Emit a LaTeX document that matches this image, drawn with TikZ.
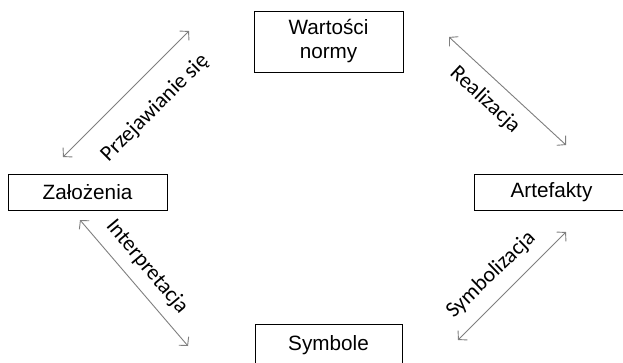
\documentclass[tikz,border=0pt]{standalone}
\usepackage{fontspec}
\setmainfont{Liberation Sans}
\newfontfamily\labelfont{Carlito}
\usetikzlibrary{arrows.meta}
\definecolor{arrgray}{HTML}{7F7F7F}
\tikzset{
  boxnode/.style={draw=black, line width=1pt, inner sep=0pt, align=center,
    font=\fontsize{20.7}{24}\selectfont},
  relarrow/.style={draw=arrgray, line width=0.9pt,
    {Straight Barb[length=6pt,width=13pt]}-{Straight Barb[length=6pt,width=13pt]}},
  rellabel/.style={font=\labelfont\fontsize{22}{24}\selectfont, inner sep=0pt}
}
\begin{document}
\begin{tikzpicture}[x=1pt,y=-1pt]
\clip (0,0) rectangle (623,362);
\fill[white] (0,0) rectangle (623,362);
\node[boxnode, minimum width=149pt, minimum height=61pt] (w) at (328.5,41.5) {Wartości\\normy};
\node[boxnode, minimum width=159pt, minimum height=36pt] (z) at (87.5,192) {Założenia};
\node[boxnode, minimum width=155pt, minimum height=36pt] (a) at (551.5,192) {Artefakty};
\node[boxnode, minimum width=147pt, minimum height=42pt, anchor=north] (s) at (328.5,324) {Symbole};
\coordinate (p1) at (63,157);
\coordinate (p2) at (189,31);
\coordinate (r1) at (449,37);
\coordinate (r2) at (566,145);
\coordinate (i1) at (80,220);
\coordinate (i2) at (188,346);
\coordinate (s1) at (458,340);
\coordinate (s2) at (566,232);
\draw[relarrow] (p1) -- (p2);
\draw[relarrow] (r1) -- (r2);
\draw[relarrow] (i1) -- (i2);
\draw[relarrow] (s1) -- (s2);
\node[rellabel, rotate=45] (lp) at (155,108) {Przejawianie się};
\node[rellabel, rotate=-43] (lr) at (485,100) {Realizacja};
\node[rellabel, rotate=-50] (li) at (147,267) {Interpretacja};
\node[rellabel, rotate=44] (ls) at (491,275) {Symbolizacja};
\end{tikzpicture}
\end{document}
